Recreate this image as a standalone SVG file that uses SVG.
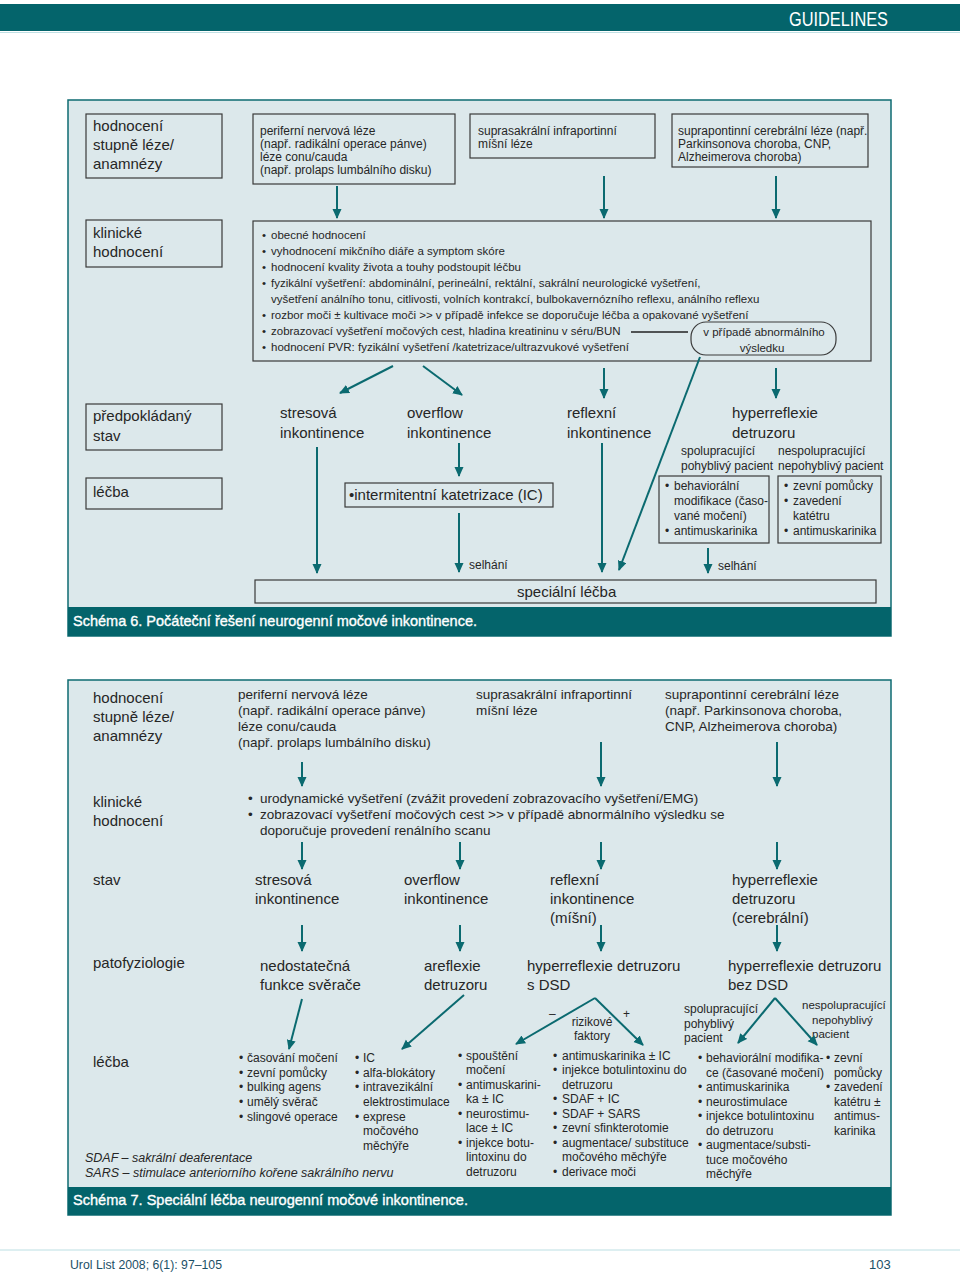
<svg xmlns="http://www.w3.org/2000/svg" width="960" height="1282" viewBox="0 0 960 1282">
<style>
text{font-family:"Liberation Sans",Arial,sans-serif;fill:#262626}
.l{font-size:15px}
.m{font-size:13.5px}
.s{font-size:12px}
.t{font-size:11.5px}
.box{fill:none;stroke:#3a3a3a;stroke-width:1.2}
.panel{fill:#dce8eb;stroke:#0e6b72;stroke-width:1.5}
.bar{fill:#04646b}
.cap{font-size:15px;fill:#fff;stroke:#fff;stroke-width:0.35}
.ar{stroke:#0b6a70;stroke-width:2;fill:none;marker-end:url(#ah)}
.ln{stroke:#222;stroke-width:1.3;fill:none}
.it{font-style:italic;font-size:12.5px}
</style>
<defs>
<marker id="ah" markerWidth="10" markerHeight="13" refX="9" refY="4.5" orient="auto" markerUnits="userSpaceOnUse">
<path d="M0,0 L10,4.5 L0,9 Z" fill="#0b6a70"/>
</marker>
</defs>
<rect width="960" height="1282" fill="#fff"/>
<!-- header -->
<rect x="0" y="4" width="960" height="27" class="bar"/>
<line x1="0" y1="32.5" x2="960" y2="32.5" stroke="#bfe0e4" stroke-width="1"/>
<text x="789" y="26" style="font-size:20px;fill:#fff" textLength="99" lengthAdjust="spacingAndGlyphs">GUIDELINES</text>

<!-- ================= SCHEMA 6 ================= -->
<g id="schema6">
<rect x="68" y="100" width="823" height="536" class="panel"/>
<rect x="68" y="607" width="823" height="29" class="bar"/>
<text x="73" y="626" class="cap" textLength="404" lengthAdjust="spacingAndGlyphs">Schéma 6. Počáteční řešení neurogenní močové inkontinence.</text>
</g>

<g id="s6-hodnoceni">
<rect x="86" y="114" width="136" height="64" class="box"/>
<text class="l" x="93"><tspan x="93" y="131">hodnocení</tspan><tspan x="93" y="150">stupně léze/</tspan><tspan x="93" y="169">anamnézy</tspan></text>
</g>
<g id="s6-periferni">
<rect x="253" y="114" width="202" height="70" class="box"/>
<text class="s"><tspan x="260" y="135">periferní nervová léze</tspan><tspan x="260" y="148">(např. radikální operace pánve)</tspan><tspan x="260" y="161">léze conu/cauda</tspan><tspan x="260" y="174">(např. prolaps lumbálního disku)</tspan></text>
</g>
<g id="s6-suprasakralni">
<rect x="470" y="114" width="185" height="44" class="box"/>
<text class="s"><tspan x="478" y="135">suprasakrální infraportinní</tspan><tspan x="478" y="148">míšní léze</tspan></text>
</g>
<g id="s6-suprapontinni">
<rect x="672" y="114" width="196" height="53" class="box"/>
<text class="s"><tspan x="678" y="135">suprapontinní cerebrální léze (např.</tspan><tspan x="678" y="148">Parkinsonova choroba, CNP,</tspan><tspan x="678" y="161">Alzheimerova choroba)</tspan></text>
</g>
<g id="s6-klinicke">
<rect x="86" y="220" width="136" height="47" class="box"/>
<text class="l"><tspan x="93" y="238">klinické</tspan><tspan x="93" y="257">hodnocení</tspan></text>
</g>
<g id="s6-klinicke-list">
<rect x="253" y="221" width="618" height="140" class="box"/>
<text class="t">
<tspan x="262" y="239">•</tspan><tspan x="271" y="239">obecné hodnocení</tspan>
<tspan x="262" y="255">•</tspan><tspan x="271" y="255">vyhodnocení mikčního diáře a symptom skóre</tspan>
<tspan x="262" y="271">•</tspan><tspan x="271" y="271">hodnocení kvality života a touhy podstoupit léčbu</tspan>
<tspan x="262" y="287">•</tspan><tspan x="271" y="287">fyzikální vyšetření: abdominální, perineální, rektální, sakrální neurologické vyšetření,</tspan>
<tspan x="271" y="303">vyšetření análního tonu, citlivosti, volních kontrakcí, bulbokavernózního reflexu, análního reflexu</tspan>
<tspan x="262" y="319">•</tspan><tspan x="271" y="319">rozbor moči ± kultivace moči &gt;&gt; v případě infekce se doporučuje léčba a opakované vyšetření</tspan>
<tspan x="262" y="335">•</tspan><tspan x="271" y="335">zobrazovací vyšetření močových cest, hladina kreatininu v séru/BUN</tspan>
<tspan x="262" y="351">•</tspan><tspan x="271" y="351">hodnocení PVR: fyzikální vyšetření /katetrizace/ultrazvukové vyšetření</tspan>
</text>
</g>
<g id="s6-abnormal">
<rect x="691" y="322" width="145" height="33" rx="15" ry="15" class="box"/>
<text class="t" text-anchor="middle"><tspan x="764" y="336">v případě abnormálního</tspan><tspan x="762" y="352">výsledku</tspan></text>
</g>
<g id="s6-predpokladany">
<rect x="86" y="404" width="136" height="46" class="box"/>
<text class="l"><tspan x="93" y="421">předpokládaný</tspan><tspan x="93" y="441">stav</tspan></text>
</g>
<g id="s6-lecba">
<rect x="86" y="478" width="136" height="31" class="box"/>
<text class="l" x="93" y="497">léčba</text>
</g>
<g id="s6-stresova"><text class="l"><tspan x="280" y="418">stresová</tspan><tspan x="280" y="438">inkontinence</tspan></text></g>
<g id="s6-overflow"><text class="l"><tspan x="407" y="418">overflow</tspan><tspan x="407" y="438">inkontinence</tspan></text></g>
<g id="s6-reflexni"><text class="l"><tspan x="567" y="418">reflexní</tspan><tspan x="567" y="438">inkontinence</tspan></text></g>
<g id="s6-hyperreflexie"><text class="l"><tspan x="732" y="418">hyperreflexie</tspan><tspan x="732" y="438">detruzoru</tspan></text></g>
<g id="s6-spolupracujici"><text class="s"><tspan x="681" y="455">spolupracující</tspan><tspan x="681" y="470">pohyblivý pacient</tspan></text></g>
<g id="s6-nespolupracujici"><text class="s"><tspan x="778" y="455">nespolupracující</tspan><tspan x="778" y="470">nepohyblivý pacient</tspan></text></g>
<g id="s6-ic">
<rect x="345" y="483" width="208" height="24" class="box"/>
<text class="l" x="349" y="500">•intermitentní katetrizace (IC)</text>
</g>
<g id="s6-behav">
<rect x="659" y="476" width="110" height="67" class="box"/>
<text class="s"><tspan x="665" y="490">•</tspan><tspan x="674" y="490">behaviorální</tspan><tspan x="674" y="505">modifikace (časo-</tspan><tspan x="674" y="520">vané močení)</tspan><tspan x="665" y="535">•</tspan><tspan x="674" y="535">antimuskarinika</tspan></text>
</g>
<g id="s6-zevni">
<rect x="778" y="476" width="103" height="67" class="box"/>
<text class="s"><tspan x="784" y="490">•</tspan><tspan x="793" y="490">zevní pomůcky</tspan><tspan x="784" y="505">•</tspan><tspan x="793" y="505">zavedení</tspan><tspan x="793" y="520">katétru</tspan><tspan x="784" y="535">•</tspan><tspan x="793" y="535">antimuskarinika</tspan></text>
</g>
<g id="s6-specialni">
<rect x="255" y="580" width="621" height="23" class="box"/>
<text class="l" x="517" y="597">speciální léčba</text>
</g>
<g id="s6-labels">
<text class="s" x="469" y="569">selhání</text>
<text class="s" x="718" y="570">selhání</text>
</g>
<g id="s6-connectors">
<line x1="337" y1="186" x2="337" y2="218" class="ar"/>
<line x1="604" y1="176" x2="604" y2="218" class="ar"/>
<line x1="776" y1="176" x2="776" y2="218" class="ar"/>
<line x1="631" y1="332" x2="688" y2="332" class="ln"/>
<line x1="393" y1="366" x2="340" y2="393" class="ar"/>
<line x1="423" y1="366" x2="462" y2="395" class="ar"/>
<line x1="604" y1="368" x2="604" y2="398" class="ar"/>
<line x1="776" y1="368" x2="776" y2="398" class="ar"/>
<line x1="317" y1="447" x2="317" y2="573" class="ar"/>
<line x1="459" y1="443" x2="459" y2="476" class="ar"/>
<line x1="459" y1="513" x2="459" y2="572" class="ar"/>
<line x1="602" y1="443" x2="602" y2="572" class="ar"/>
<line x1="700" y1="357" x2="619" y2="570" class="ar"/>
<line x1="708" y1="548" x2="708" y2="573" class="ar"/>
</g>

<!-- ================= SCHEMA 7 ================= -->
<g id="schema7">
<rect x="68" y="680" width="823" height="535" class="panel"/>
<rect x="68" y="1187" width="823" height="28" class="bar"/>
<text x="73" y="1205" class="cap" textLength="395" lengthAdjust="spacingAndGlyphs">Schéma 7. Speciální léčba neurogenní močové inkontinence.</text>
</g>
<g id="s7-hodnoceni"><text class="l"><tspan x="93" y="703">hodnocení</tspan><tspan x="93" y="722">stupně léze/</tspan><tspan x="93" y="741">anamnézy</tspan></text></g>
<g id="s7-periferni"><text class="m"><tspan x="238" y="699">periferní nervová léze</tspan><tspan x="238" y="715">(např. radikální operace pánve)</tspan><tspan x="238" y="731">léze conu/cauda</tspan><tspan x="238" y="747">(např. prolaps lumbálního disku)</tspan></text></g>
<g id="s7-suprasakralni"><text class="m"><tspan x="476" y="699">suprasakrální infraportinní</tspan><tspan x="476" y="715">míšní léze</tspan></text></g>
<g id="s7-suprapontinni"><text class="m"><tspan x="665" y="699">suprapontinní cerebrální léze</tspan><tspan x="665" y="715">(např. Parkinsonova choroba,</tspan><tspan x="665" y="731">CNP, Alzheimerova choroba)</tspan></text></g>
<g id="s7-klinicke"><text class="l"><tspan x="93" y="807">klinické</tspan><tspan x="93" y="826">hodnocení</tspan></text></g>
<g id="s7-klinicke-list"><text class="m"><tspan x="248" y="803">•</tspan><tspan x="260" y="803">urodynamické vyšetření (zvážit provedení zobrazovacího vyšetření/EMG)</tspan><tspan x="248" y="819">•</tspan><tspan x="260" y="819">zobrazovací vyšetření močových cest &gt;&gt; v případě abnormálního výsledku se</tspan><tspan x="260" y="835">doporučuje provedení renálního scanu</tspan></text></g>
<g id="s7-stav"><text class="l" x="93" y="885">stav</text></g>
<g id="s7-stresova"><text class="l"><tspan x="255" y="885">stresová</tspan><tspan x="255" y="904">inkontinence</tspan></text></g>
<g id="s7-overflow"><text class="l"><tspan x="404" y="885">overflow</tspan><tspan x="404" y="904">inkontinence</tspan></text></g>
<g id="s7-reflexni"><text class="l"><tspan x="550" y="885">reflexní</tspan><tspan x="550" y="904">inkontinence</tspan><tspan x="550" y="923">(míšní)</tspan></text></g>
<g id="s7-hyperreflexie"><text class="l"><tspan x="732" y="885">hyperreflexie</tspan><tspan x="732" y="904">detruzoru</tspan><tspan x="732" y="923">(cerebrální)</tspan></text></g>
<g id="s7-patofyziologie"><text class="l" x="93" y="968">patofyziologie</text></g>
<g id="s7-nedostatecna"><text class="l"><tspan x="260" y="971">nedostatečná</tspan><tspan x="260" y="990">funkce svěrače</tspan></text></g>
<g id="s7-areflexie"><text class="l"><tspan x="424" y="971">areflexie</tspan><tspan x="424" y="990">detruzoru</tspan></text></g>
<g id="s7-sdsd"><text class="l"><tspan x="527" y="971">hyperreflexie detruzoru</tspan><tspan x="527" y="990">s DSD</tspan></text></g>
<g id="s7-bezdsd"><text class="l"><tspan x="728" y="971">hyperreflexie detruzoru</tspan><tspan x="728" y="990">bez DSD</tspan></text></g>
<g id="s7-rizikove">
<text class="s" x="549" y="1018">–</text>
<text class="s" x="623" y="1018">+</text>
<text class="s" text-anchor="middle"><tspan x="592" y="1026">rizikové</tspan><tspan x="592" y="1040">faktory</tspan></text>
</g>
<g id="s7-spolupracujici"><text class="s"><tspan x="684" y="1013">spolupracující</tspan><tspan x="684" y="1028">pohyblivý</tspan><tspan x="684" y="1042">pacient</tspan></text></g>
<g id="s7-nespolupracujici"><text class="t"><tspan x="802" y="1009">nespolupracující</tspan><tspan x="812" y="1024">nepohyblivý</tspan><tspan x="812" y="1038">pacient</tspan></text></g>
<g id="s7-lecba"><text class="l" x="93" y="1067">léčba</text></g>
<g id="s7-col1"><text class="s">
<tspan x="239" y="1062">•</tspan><tspan x="247" y="1062">časování močení</tspan>
<tspan x="239" y="1077">•</tspan><tspan x="247" y="1077">zevní pomůcky</tspan>
<tspan x="239" y="1091">•</tspan><tspan x="247" y="1091">bulking  agens</tspan>
<tspan x="239" y="1106">•</tspan><tspan x="247" y="1106">umělý svěrač</tspan>
<tspan x="239" y="1121">•</tspan><tspan x="247" y="1121">slingové operace</tspan>
</text></g>
<g id="s7-col2"><text class="s">
<tspan x="355" y="1062">•</tspan><tspan x="363" y="1062">IC</tspan>
<tspan x="355" y="1077">•</tspan><tspan x="363" y="1077">alfa-blokátory</tspan>
<tspan x="355" y="1091">•</tspan><tspan x="363" y="1091">intravezikální</tspan>
<tspan x="363" y="1106">elektrostimulace</tspan>
<tspan x="355" y="1121">•</tspan><tspan x="363" y="1121">exprese</tspan>
<tspan x="363" y="1135">močového</tspan>
<tspan x="363" y="1150">měchýře</tspan>
</text></g>
<g id="s7-col3"><text class="s">
<tspan x="458" y="1060">•</tspan><tspan x="466" y="1060">spouštění</tspan>
<tspan x="466" y="1074">močení</tspan>
<tspan x="458" y="1089">•</tspan><tspan x="466" y="1089">antimuskarini-</tspan>
<tspan x="466" y="1103">ka ± IC</tspan>
<tspan x="458" y="1118">•</tspan><tspan x="466" y="1118">neurostimu-</tspan>
<tspan x="466" y="1132">lace ± IC</tspan>
<tspan x="458" y="1147">•</tspan><tspan x="466" y="1147">injekce botu-</tspan>
<tspan x="466" y="1161">lintoxinu do</tspan>
<tspan x="466" y="1176">detruzoru</tspan>
</text></g>
<g id="s7-col4"><text class="s">
<tspan x="553" y="1060">•</tspan><tspan x="562" y="1060">antimuskarinika ± IC</tspan>
<tspan x="553" y="1074">•</tspan><tspan x="562" y="1074">injekce botulintoxinu do</tspan>
<tspan x="562" y="1089">detruzoru</tspan>
<tspan x="553" y="1103">•</tspan><tspan x="562" y="1103">SDAF + IC</tspan>
<tspan x="553" y="1118">•</tspan><tspan x="562" y="1118">SDAF + SARS</tspan>
<tspan x="553" y="1132">•</tspan><tspan x="562" y="1132">zevní sfinkterotomie</tspan>
<tspan x="553" y="1147">•</tspan><tspan x="562" y="1147">augmentace/ substituce</tspan>
<tspan x="562" y="1161">močového měchýře</tspan>
<tspan x="553" y="1176">•</tspan><tspan x="562" y="1176">derivace moči</tspan>
</text></g>
<g id="s7-col5"><text class="s">
<tspan x="698" y="1062">•</tspan><tspan x="706" y="1062">behaviorální modifika-</tspan>
<tspan x="706" y="1077">ce (časované močení)</tspan>
<tspan x="698" y="1091">•</tspan><tspan x="706" y="1091">antimuskarinika</tspan>
<tspan x="698" y="1106">•</tspan><tspan x="706" y="1106">neurostimulace</tspan>
<tspan x="698" y="1120">•</tspan><tspan x="706" y="1120">injekce botulintoxinu</tspan>
<tspan x="706" y="1135">do detruzoru</tspan>
<tspan x="698" y="1149">•</tspan><tspan x="706" y="1149">augmentace/substi-</tspan>
<tspan x="706" y="1164">tuce močového</tspan>
<tspan x="706" y="1178">měchýře</tspan>
</text></g>
<g id="s7-col6"><text class="s">
<tspan x="826" y="1062">•</tspan><tspan x="834" y="1062">zevní</tspan>
<tspan x="834" y="1077">pomůcky</tspan>
<tspan x="826" y="1091">•</tspan><tspan x="834" y="1091">zavedení</tspan>
<tspan x="834" y="1106">katétru ±</tspan>
<tspan x="834" y="1120">antimus-</tspan>
<tspan x="834" y="1135">karinika</tspan>
</text></g>
<g id="s7-legend">
<text class="it" x="85" y="1162">SDAF – sakrální deaferentace</text>
<text class="it" x="85" y="1177">SARS – stimulace anteriorního kořene sakrálního nervu</text>
</g>
<g id="s7-connectors">
<line x1="302" y1="762" x2="302" y2="786" class="ar"/>
<line x1="601" y1="742" x2="601" y2="786" class="ar"/>
<line x1="777" y1="742" x2="777" y2="786" class="ar"/>
<line x1="302" y1="842" x2="302" y2="869" class="ar"/>
<line x1="460" y1="842" x2="460" y2="869" class="ar"/>
<line x1="601" y1="842" x2="601" y2="869" class="ar"/>
<line x1="777" y1="842" x2="777" y2="869" class="ar"/>
<line x1="302" y1="925" x2="302" y2="951" class="ar"/>
<line x1="460" y1="925" x2="460" y2="951" class="ar"/>
<line x1="601" y1="925" x2="601" y2="951" class="ar"/>
<line x1="777" y1="925" x2="777" y2="951" class="ar"/>
<line x1="302" y1="999" x2="289" y2="1049" class="ar"/>
<line x1="464" y1="995" x2="402" y2="1049" class="ar"/>
<line x1="595" y1="998" x2="516" y2="1044" class="ar"/>
<line x1="595" y1="998" x2="643" y2="1045" class="ar"/>
<line x1="775" y1="998" x2="738" y2="1043" class="ar"/>
<line x1="775" y1="998" x2="817" y2="1045" class="ar"/>
</g>

<!-- footer -->
<line x1="0" y1="1250" x2="960" y2="1250" stroke="#bcdfe3" stroke-width="1"/>
<text x="70" y="1269" style="font-size:13px;fill:#1c4f66" textLength="152" lengthAdjust="spacingAndGlyphs">Urol List 2008; 6(1): 97–105</text>
<text x="869" y="1269" style="font-size:13px;fill:#1c4f66">103</text>
</svg>
